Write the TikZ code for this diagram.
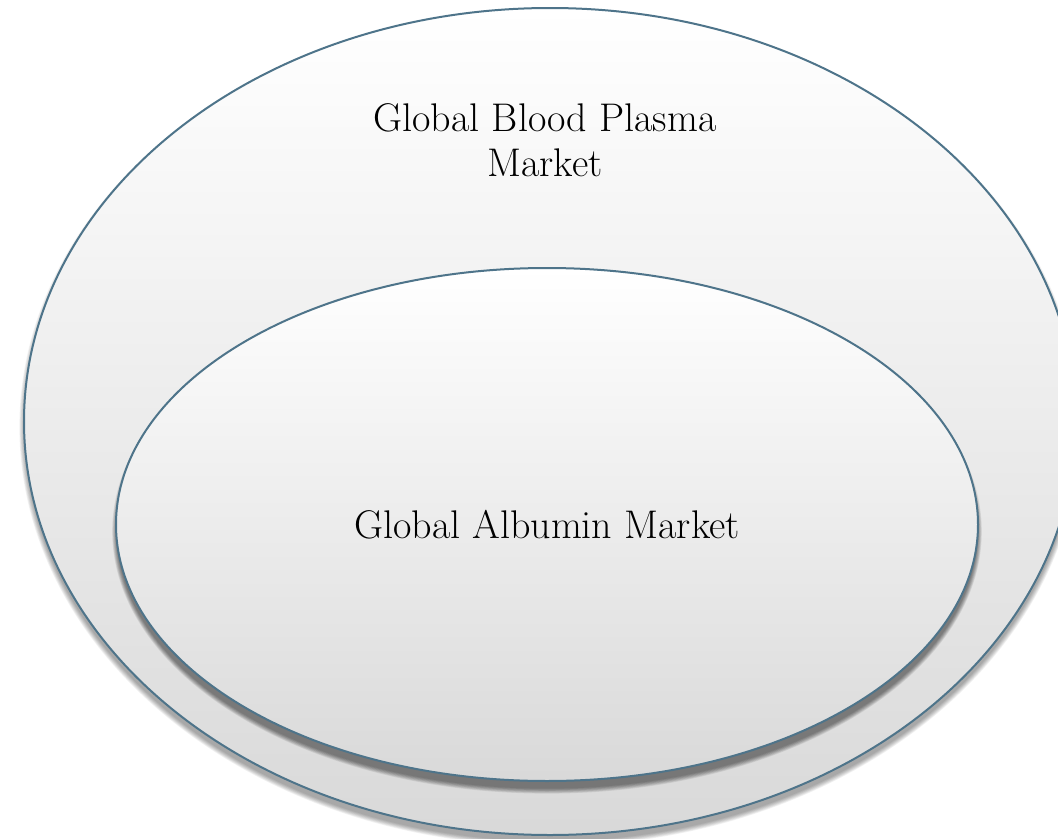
\documentclass[tikz,border=0pt]{standalone}
\usepackage{xcolor}
\usepackage{tikz}
\usetikzlibrary{shapes.geometric}
\definecolor{rimblue}{RGB}{78,116,138}
\tikzset{marketset/.style={draw=rimblue,line width=1.5pt,ellipse,inner sep=0pt,
    top color=white,bottom color=black!15,font=\fontsize{30}{34}\selectfont},
  setlabel/.style={align=center,font=\fontsize{30}{34}\selectfont}}

\begin{document}
\begin{tikzpicture}[x=0.75pt,y=-0.75pt]
    \useasboundingbox (0,0) rectangle (1058,839);

    \foreach \k in {1,...,8}
      \fill[black,opacity=0.05] (550,427) ellipse ({525+\k*0.7} and {413.5+\k*0.7});
    \node[marketset,minimum width=789pt,minimum height=620.25pt] (plasma) at (550,421.5) {};
    \node[setlabel] (plasmalbl) at (545,140) {Global Blood Plasma\\Market};

    \foreach \k in {1,...,8}
      \fill[black,opacity=0.07] (547,531.5) ellipse ({430+\k*0.6} and {256.5+\k*0.7});
    \node[marketset,minimum width=646.5pt,minimum height=384.75pt] (albumin) at (547,524.5) {Global Albumin Market};
  \end{tikzpicture}
\end{document}
